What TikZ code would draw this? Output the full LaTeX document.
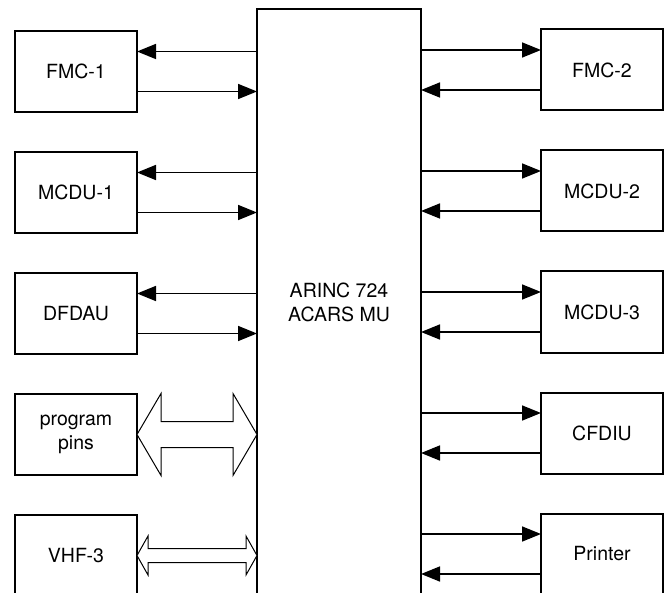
\documentclass[tikz,border=0pt]{standalone}
\usepackage{fontspec}
\setmainfont{TeX Gyre Heros}
\usetikzlibrary{positioning,arrows.meta}

\begin{document}
\begin{tikzpicture}[
                x=1pt, y=1pt,
                node distance=40pt,
                font=\fontsize{19.5}{24}\selectfont,
                unit/.style={draw, line width=2pt, minimum width=122pt, minimum height=81pt,
                        inner sep=0pt, outer sep=0pt, align=center},
                sig/.style={line width=1.6pt, -{Triangle[length=19pt,width=15pt]}},
                bus/.style={draw, line width=1pt, fill=white, line join=miter}
            ]

            \useasboundingbox (0,0) rectangle (671,592);
            \clip (0,0) rectangle (671,592);

            % management unit
            \node[unit, minimum width=164pt, minimum height=586pt] (mu) at (339,290) {ARINC 724\\ACARS MU};

            % left column
            \node[unit] (fmc1) at (76,520.5) {FMC-1};
            \node[unit, below=of fmc1] (mcdu1) {MCDU-1};
            \node[unit, below=of mcdu1] (dfdau) {DFDAU};
            \node[unit, below=of dfdau] (pins) {program\\pins};
            \node[unit, below=of pins] (vhf3) {VHF-3};

            % right column
            \node[unit] (fmc2) at (602,522) {FMC-2};
            \node[unit, below=of fmc2] (mcdu2) {MCDU-2};
            \node[unit, below=of mcdu2] (mcdu3) {MCDU-3};
            \node[unit, below=of mcdu3] (cfdiu) {CFDIU};
            \node[unit, below=of cfdiu] (printer) {Printer};

            \foreach \n in {fmc1,mcdu1,dfdau}{
                \draw[sig] ([yshift=20pt]\n.east -| mu.west) -- ([yshift=20pt]\n.east);
                \draw[sig] ([yshift=-20pt]\n.east) -- ([yshift=-20pt]\n.east -| mu.west);
            }
            \foreach \n in {fmc2,mcdu2,mcdu3,cfdiu,printer}{
                \draw[sig] ([yshift=20pt]\n.west -| mu.east) -- ([yshift=20pt]\n.west);
                \draw[sig] ([yshift=-20pt]\n.west) -- ([yshift=-20pt]\n.west -| mu.east);
            }

            % wide buses
            \draw[bus] (pins.east) -- ++(24,41) -- ++(0,-28) -- ++(72,0) -- ++(0,28)
                -- (pins.east -| mu.west) -- ++(-24,-41) -- ++(0,28) -- ++(-72,0) -- ++(0,-28) -- cycle;
            \draw[bus] (vhf3.east) -- ++(11,19.5) -- ++(0,-12.5) -- ++(98,0) -- ++(0,12.5)
                -- (vhf3.east -| mu.west) -- ++(-11,-19.5) -- ++(0,12.5) -- ++(-98,0) -- ++(0,-12.5) -- cycle;

        \end{tikzpicture}
\end{document}
